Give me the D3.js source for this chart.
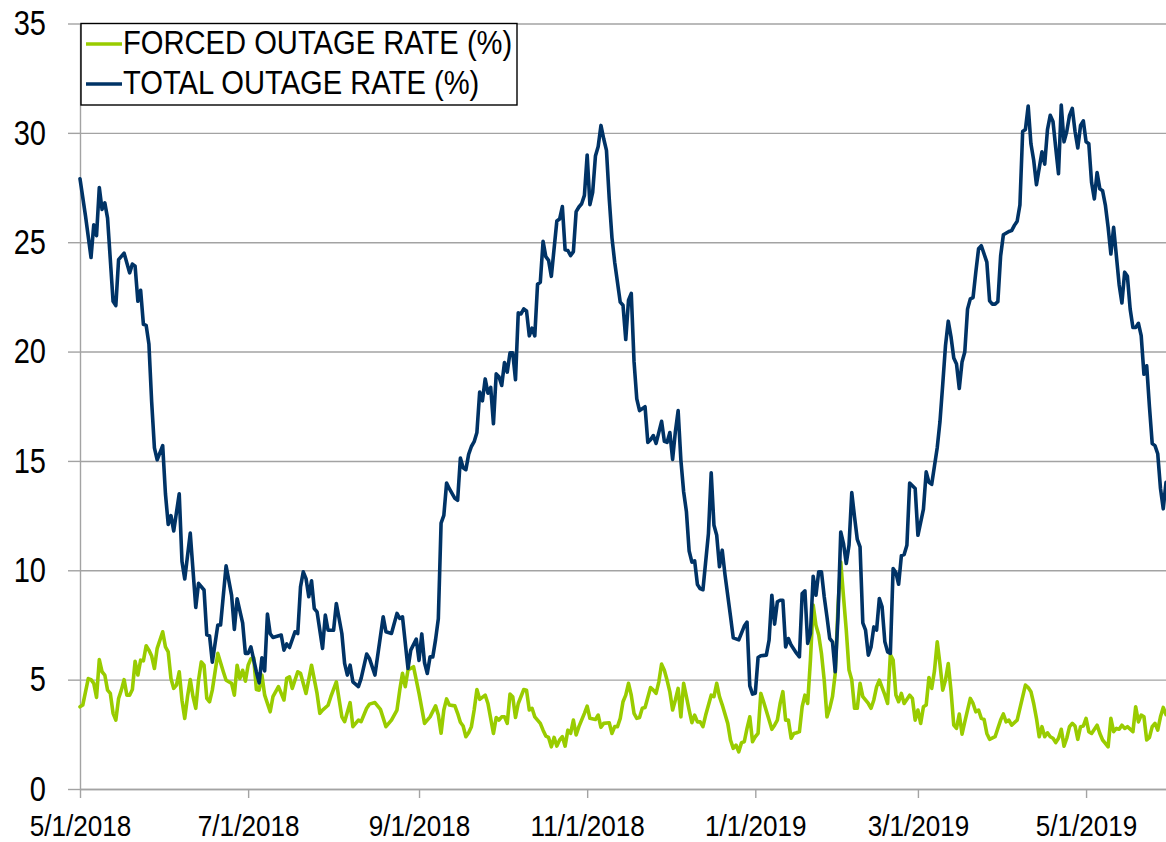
<!DOCTYPE html>
<html>
<head>
<meta charset="utf-8">
<script src="https://cdn.jsdelivr.net/npm/d3@7"></script>
<style>
    body { margin: 0; background: #fff; }
    svg { display: block; font-family: 'Liberation Sans', Arial, sans-serif; }
</style>
</head>
<body>
<svg id="chart" width="1166" height="842"></svg>
<script>
// day offsets are counted from 5/1/2018
const startDate = new Date(2018, 4, 1);
const lastDay = 394;

const seriesNames = ['FORCED OUTAGE RATE (%)', 'TOTAL OUTAGE RATE (%)'];
const xTickLabels = ['5/1/2018', '7/1/2018', '9/1/2018', '11/1/2018', '1/1/2019', '3/1/2019', '5/1/2019'];
const yTickValues = [0, 5, 10, 15, 20, 25, 30, 35];

// [day offset, rate %]
const forcedRate = [
    [0,3.76],[1,3.84],[3,5.05],[4,5.0],[5,4.83],[6,4.19],[7,5.92],[8,5.36],[9,5.21],[10,4.52],[11,4.37],[12,3.46],[13,3.15],[14,4.14],[15,4.52],[16,5.0],[17,4.29],[18,4.29],[19,4.55],[20,5.84],
    [21,5.21],[22,5.89],[23,5.86],[24,6.55],[25,6.35],[26,6.08],[27,5.51],[28,6.43],[30,7.19],[31,6.5],[32,6.27],[33,5.05],[34,4.6],[35,4.75],[36,5.36],[37,4.06],[38,3.23],[39,4.22],[40,5.0],
    [41,4.22],[42,3.69],[43,4.97],[44,5.81],[45,5.66],[46,4.14],[47,3.99],[48,4.52],[50,6.2],[52,5.36],[53,4.97],[55,4.83],[56,4.29],[57,5.66],[58,5.05],[59,5.43],[60,4.93],[61,5.66],[62,5.96],
    [63,6.0],[64,4.55],[65,4.52],[66,5.21],[67,4.29],[69,3.53],[70,4.22],[72,4.68],[74,4.07],[75,5.06],[76,5.13],[77,4.6],[79,5.36],[80,5.29],[82,4.37],[84,5.66],[86,4.37],[87,3.46],[88,3.61],
    [90,3.83],[91,4.22],[93,4.9],[95,3.3],[96,3.08],[98,3.95],[99,2.85],[101,3.15],[102,3.08],[104,3.69],[105,3.88],[107,3.95],[109,3.64],[111,2.85],[113,3.15],[115,3.61],[116,4.52],[117,5.29],
    [118,4.68],[119,5.44],[121,5.59],[123,4.37],[125,3.0],[127,3.3],[129,3.8],[130,3.38],[131,2.55],[132,3.61],[133,4.12],[134,3.84],[136,3.8],[137,3.46],[138,3.05],[139,2.88],[140,2.39],
    [141,2.57],[142,2.85],[143,3.61],[144,4.55],[145,4.1],[147,4.29],[148,3.91],[150,2.54],[151,3.27],[152,3.15],[153,3.3],[154,3.3],[155,3.0],[156,4.34],[157,4.22],[158,3.27],[159,3.91],
    [161,4.55],[162,4.52],[163,3.61],[164,3.69],[165,3.3],[167,3.0],[168,2.69],[169,2.42],[170,2.36],[171,1.93],[172,2.36],[173,1.96],[174,2.24],[175,2.39],[176,1.96],[177,2.69],[178,2.54],
    [179,3.15],[180,2.47],[181,2.85],[183,3.46],[184,3.79],[185,3.23],[187,3.18],[188,3.38],[189,2.82],[190,3.0],[192,3.03],[193,2.54],[194,2.85],[195,2.85],[196,3.23],[197,3.99],[198,4.29],
    [199,4.83],[200,4.29],[201,3.46],[202,3.23],[203,3.27],[204,3.69],[205,3.73],[207,4.64],[208,4.52],[209,4.37],[210,4.9],[211,5.71],[212,5.43],[213,4.97],[214,4.44],[215,3.61],[216,4.07],
    [217,4.6],[218,3.3],[219,4.83],[220,4.22],[221,3.61],[222,3.03],[223,3.38],[224,3.07],[225,3.07],[226,2.85],[227,3.38],[229,4.29],[230,4.22],[231,4.83],[232,4.22],[233,3.85],[235,3.0],
    [236,2.24],[237,1.86],[238,2.01],[239,1.7],[240,2.12],[241,2.16],[242,2.77],[243,3.3],[244,2.16],[245,2.39],[246,2.54],[247,4.37],[248,3.99],[250,3.15],[251,2.73],[252,2.92],[253,3.15],
    [254,3.91],[255,4.45],[256,3.15],[257,3.15],[258,2.32],[259,2.54],[260,2.57],[261,2.62],[262,3.76],[263,4.29],[264,3.91],[265,5.89],[266,8.41],[267,7.49],[268,7.04],[269,6.2],[270,4.98],
    [271,3.3],[272,3.69],[273,4.22],[274,5.28],[275,8.33],[276,10.38],[277,8.79],[278,7.26],[279,5.44],[280,4.98],[281,3.69],[282,3.69],[283,4.83],[284,4.22],[286,3.91],[287,3.69],[288,4.07],
    [289,4.67],[290,4.98],[292,4.3],[293,3.91],[294,6.15],[295,5.9],[296,4.3],[297,3.99],[298,4.37],[299,3.91],[301,4.29],[302,4.14],[303,3.15],[304,3.61],[305,3.0],[306,3.76],[307,3.84],
    [308,5.1],[309,4.6],[310,5.4],[311,6.73],[312,5.7],[313,4.52],[314,4.98],[315,5.74],[316,4.5],[317,2.92],[318,2.77],[319,3.43],[320,2.51],[321,3.07],[322,3.61],[323,4.14],[324,3.91],
    [325,3.53],[326,3.61],[327,3.23],[328,3.18],[329,2.54],[330,2.27],[332,2.39],[333,2.77],[334,3.15],[335,3.43],[336,3.07],[337,3.15],[338,2.92],[340,3.15],[341,3.69],[343,4.75],[344,4.64],
    [345,4.45],[346,3.91],[347,3.23],[348,2.39],[349,2.85],[350,2.39],[351,2.57],[352,2.39],[353,2.32],[354,2.12],[355,2.32],[356,2.73],[357,1.96],[358,2.32],[359,2.85],[360,3.0],[361,2.88],
    [362,2.27],[363,2.85],[364,2.88],[365,3.23],[366,2.62],[367,2.54],[369,2.92],[370,2.54],[371,2.24],[372,2.09],[373,1.93],[374,3.23],[375,2.62],[376,2.77],[377,2.73],[378,2.92],[379,2.77],
    [380,2.85],[382,2.62],[383,3.76],[384,3.07],[385,3.38],[386,3.3],[387,2.24],[388,2.36],[389,2.85],[390,3.0],[391,2.69],[392,3.3],[393,3.73],[394,3.4]
];

const totalRate = [
    [0,27.9],[2,26.2],[4,24.3],[5,25.8],[6,25.3],[7,27.5],[8,26.5],[9,26.8],[10,26.1],[12,22.3],[13,22.1],[14,24.2],[16,24.5],[18,23.6],[19,24.0],[20,23.9],[21,22.3],[22,22.8],[23,21.25],
    [24,21.2],[25,20.35],[26,17.7],[27,15.6],[28,15.05],[30,15.7],[31,13.5],[32,12.1],[33,12.5],[34,11.8],[36,13.5],[37,10.4],[38,9.6],[40,11.7],[42,8.3],[43,9.4],[45,9.1],[46,7.05],[47,7.0],
    [48,5.8],[50,7.5],[51,7.5],[53,10.2],[55,8.85],[56,7.3],[57,8.7],[59,7.6],[60,6.2],[61,6.2],[62,6.5],[64,5.35],[65,4.85],[66,6.0],[67,5.4],[68,8.0],[69,7.1],[70,6.93],[73,7.04],[74,6.35],
    [75,6.63],[76,6.47],[78,7.19],[79,7.11],[80,9.24],[81,9.93],[82,9.62],[83,8.79],[84,9.52],[85,8.25],[86,8.1],[88,6.43],[89,7.95],[90,7.26],[92,7.26],[93,8.48],[95,7.11],[96,5.74],[97,5.21],
    [98,5.66],[99,4.9],[101,4.68],[102,5.06],[104,6.17],[105,5.97],[107,5.21],[110,7.87],[111,7.19],[113,7.11],[115,8.03],[116,7.8],[117,7.87],[119,5.51],[120,6.35],[122,6.85],[123,5.88],
    [124,7.09],[125,5.77],[126,5.28],[127,6.04],[128,6.04],[129,6.83],[130,7.78],[131,12.16],[132,12.51],[133,13.99],[134,13.73],[136,13.29],[137,13.2],[138,15.13],[139,14.69],[140,14.6],
    [141,15.3],[142,15.66],[143,15.88],[144,16.3],[145,18.15],[146,17.75],[147,18.75],[148,18.1],[149,18.36],[150,16.7],[151,18.98],[152,18.85],[153,18.45],[154,19.5],[155,19.06],[156,19.94],
    [157,19.94],[158,18.71],[159,21.77],[160,21.72],[161,21.95],[162,21.86],[163,20.72],[164,21.07],[165,20.72],[166,23.08],[167,23.17],[168,25.04],[169,24.34],[170,24.17],[171,23.44],
    [173,25.97],[174,26.06],[175,26.63],[176,24.65],[177,24.62],[178,24.39],[179,24.57],[180,26.4],[181,26.61],[182,26.76],[183,27.14],[184,28.99],[185,26.72],[186,27.28],[187,28.94],
    [188,29.38],[189,30.34],[190,29.73],[191,29.2],[192,27.0],[193,25.2],[194,24.07],[196,22.26],[197,22.12],[198,20.55],[199,22.35],[200,22.66],[201,19.55],[202,17.84],[203,17.3],[205,17.48],
    [206,15.85],[207,15.97],[208,16.16],[209,15.8],[211,16.81],[212,15.9],[213,15.85],[214,16.3],[215,15.07],[216,16.34],[217,17.3],[218,15.04],[219,13.59],[220,12.69],[221,10.88],[222,10.37],
    [223,10.43],[224,9.35],[225,9.16],[226,9.11],[228,11.69],[229,14.46],[230,12.06],[231,11.6],[232,10.16],[233,10.92],[234,9.8],[236,7.9],[237,6.91],[239,6.82],[241,7.45],[242,7.63],
    [243,4.71],[244,4.34],[245,4.38],[246,6.01],[247,6.09],[249,6.12],[250,6.81],[251,8.86],[252,7.54],[253,8.56],[254,8.63],[255,8.63],[256,6.5],[257,6.88],[258,6.58],[260,6.2],[261,6.04],
    [262,8.94],[263,9.06],[264,6.66],[265,7.11],[266,9.73],[267,8.86],[268,9.93],[269,9.93],[270,8.79],[271,7.87],[272,6.88],[273,6.73],[274,5.36],[275,7.87],[276,11.75],[277,11.22],
    [278,10.31],[279,11.15],[280,13.55],[281,12.44],[282,11.41],[283,11.07],[284,7.6],[285,7.26],[286,6.12],[287,6.5],[288,7.41],[289,7.26],[290,8.71],[291,8.33],[292,6.73],[293,6.27],
    [294,6.2],[295,10.08],[296,9.9],[297,9.36],[298,10.67],[299,10.72],[300,11.15],[301,13.99],[303,13.74],[304,11.6],[306,12.8],[307,14.5],[308,14.02],[309,13.93],[310,14.77],[311,15.6],
    [312,16.8],[313,18.5],[314,20.27],[315,21.39],[316,20.68],[317,19.71],[318,19.43],[319,18.31],[320,19.52],[321,19.98],[322,21.94],[323,22.41],[324,22.47],[325,23.63],[326,24.7],[327,24.84],
    [329,24.09],[330,22.32],[331,22.17],[332,22.17],[333,22.28],[334,24.37],[335,25.34],[337,25.49],[338,25.53],[339,25.77],[340,25.96],[341,26.7],[342,30.06],[343,30.15],[344,31.23],
    [345,29.5],[346,28.75],[347,27.63],[348,28.38],[349,29.13],[350,28.57],[351,30.15],[352,30.8],[353,30.52],[354,29.31],[355,28.13],[356,31.27],[357,29.59],[358,30.06],[359,30.8],[360,31.12],
    [361,30.06],[362,29.31],[363,30.34],[364,30.55],[365,29.59],[366,29.5],[367,27.73],[368,26.98],[369,28.19],[370,27.44],[371,27.35],[372,26.7],[373,25.68],[374,24.46],[375,25.68],
    [376,24.37],[377,23.06],[378,22.22],[379,23.63],[380,23.44],[381,21.94],[382,21.1],[383,21.1],[384,21.29],[385,20.73],[386,18.96],[387,19.35],[388,17.47],[389,15.79],[390,15.7],
    [391,15.33],[392,13.74],[393,12.81],[394,14.02]
];

const parseTick = d3.timeParse('%m/%d/%Y');
const toDate = (day) => d3.timeDay.offset(startDate, day);

function drawChart() {
    const width = 1166;
    const height = 842;
    const margin = { top: 23.5, right: 0, bottom: 53, left: 80 };
    const gridColor = '#a3a3a3';

    const svg = d3.select('#chart');

    svg.append('rect')
        .attr('width', width)
        .attr('height', height)
        .attr('fill', '#fff');

    const xScale = d3.scaleTime()
        .domain([startDate, toDate(lastDay)])
        .range([margin.left, width - margin.right]);

    const yScale = d3.scaleLinear()
        .domain([0, 35])
        .range([height - margin.bottom, margin.top]);

    // horizontal gridlines across the plot
    svg.append('g')
        .attr('class', 'gridlines')
        .attr('transform', `translate(${margin.left}, 0)`)
        .call(d3.axisLeft(yScale)
            .tickValues(yTickValues)
            .tickFormat('')
            .tickSize(-(width - margin.left - margin.right)))
        .call((g) => g.select('.domain').remove())
        .selectAll('line')
        .attr('stroke', gridColor)
        .attr('stroke-width', 1.4);

    // y axis with short outside ticks and labels
    const yAxis = svg.append('g')
        .attr('transform', `translate(${margin.left}, 0)`)
        .call(d3.axisLeft(yScale)
            .tickValues(yTickValues)
            .tickSizeInner(12)
            .tickSizeOuter(0)
            .tickPadding(29));

    yAxis.select('.domain').attr('stroke', gridColor).attr('stroke-width', 1.4);
    yAxis.selectAll('.tick line').attr('stroke', gridColor).attr('stroke-width', 1.4);
    yAxis.selectAll('text')
        .attr('font-size', 35)
        .attr('font-family', "'Liberation Sans', Arial, sans-serif")
        .attr('fill', '#000')
        .attr('transform', 'scale(0.83,1)');

    // x axis
    const xAxis = svg.append('g')
        .attr('transform', `translate(0, ${height - margin.bottom})`)
        .call(d3.axisBottom(xScale)
            .tickValues(xTickLabels.map(parseTick))
            .tickFormat((d, i) => xTickLabels[i])
            .tickSizeInner(9)
            .tickSizeOuter(0)
            .tickPadding(17));

    xAxis.select('.domain').attr('stroke', gridColor).attr('stroke-width', 1.4);
    xAxis.selectAll('.tick line').attr('stroke', gridColor).attr('stroke-width', 1.4);
    xAxis.selectAll('text')
        .attr('font-size', 29)
        .attr('font-family', "'Liberation Sans', Arial, sans-serif")
        .attr('fill', '#000')
        .attr('transform', 'scale(0.9,1)');

    const line = d3.line()
        .x((d) => xScale(toDate(d[0])))
        .y((d) => yScale(d[1]));

    const series = [
        { name: seriesNames[0], values: forcedRate, color: '#99cc00' },
        { name: seriesNames[1], values: totalRate, color: '#003366' },
    ];

    svg.append('g')
        .attr('class', 'lines')
        .selectAll('path')
        .data(series)
        .join('path')
        .attr('d', (d) => line(d.values))
        .attr('fill', 'none')
        .attr('stroke', (d) => d.color)
        .attr('stroke-width', 3.6)
        .attr('stroke-linejoin', 'round')
        .attr('stroke-linecap', 'round');

    // legend box in the upper left corner
    const legend = svg.append('g').attr('class', 'legend');

    legend.append('rect')
        .attr('x', 81)
        .attr('y', 23.5)
        .attr('width', 436)
        .attr('height', 81.5)
        .attr('fill', '#fff')
        .attr('stroke', '#000')
        .attr('stroke-width', 1.4);

    const items = legend.selectAll('g.item')
        .data(series)
        .join('g')
        .attr('class', 'item')
        .attr('transform', (d, i) => `translate(86, ${44 + i * 40})`);

    items.append('line')
        .attr('x1', 0)
        .attr('x2', 36)
        .attr('stroke', (d) => d.color)
        .attr('stroke-width', 3.6);

    items.append('text')
        .attr('transform', 'translate(37, 9.6) scale(0.9,1)')
        .attr('font-size', 32.4)
        .attr('fill', '#000')
        .text((d) => d.name);
}

document.addEventListener('DOMContentLoaded', drawChart);
</script>
</body>
</html>
